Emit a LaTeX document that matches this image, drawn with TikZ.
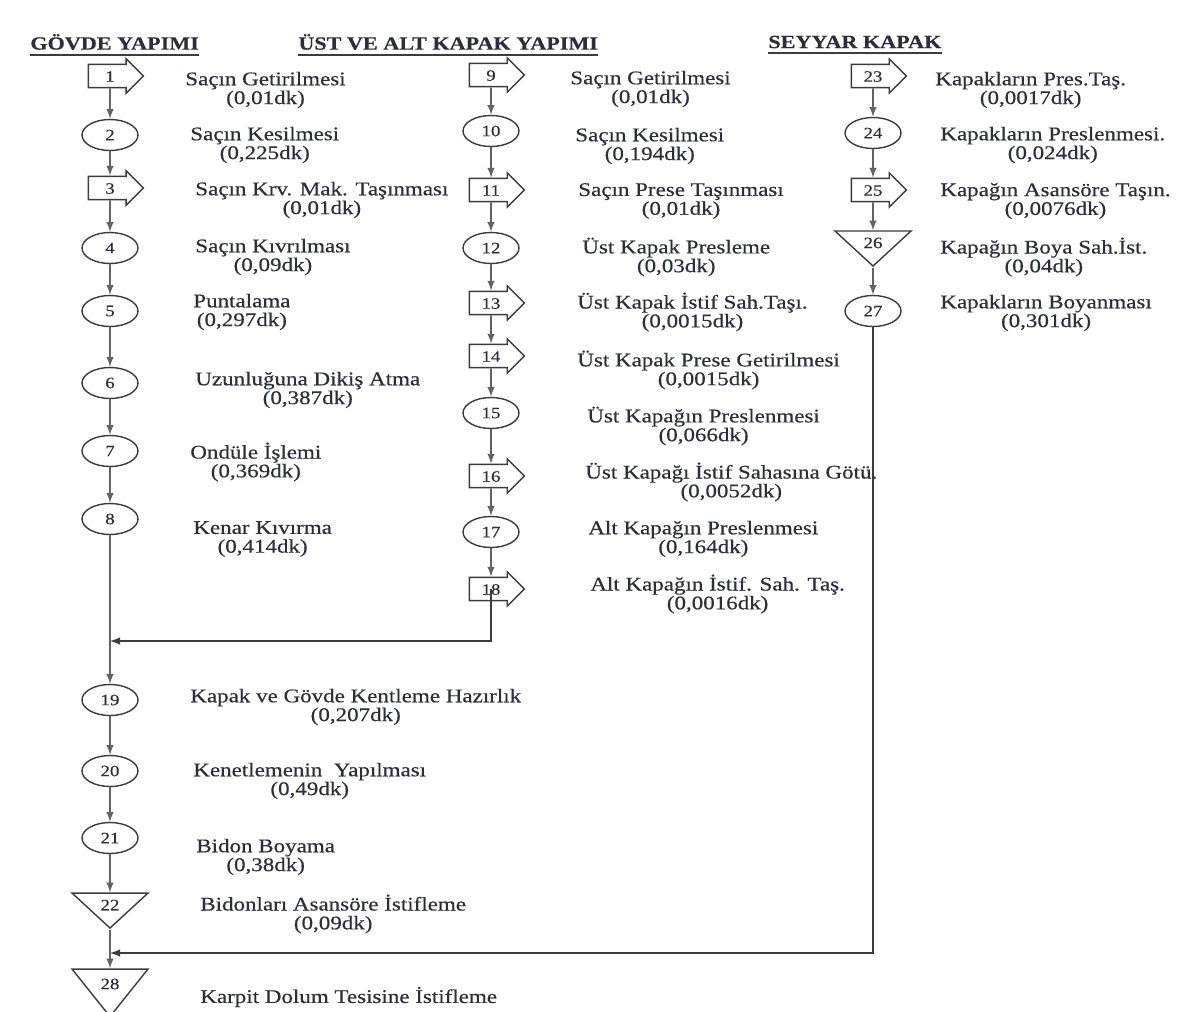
\documentclass[tikz,border=0pt]{standalone}
\usepackage{fontspec}
\setmainfont{Liberation Serif}[FakeStretch=1.19,FakeBold=0.4]
\usepackage{tikz}
\usetikzlibrary{shapes.geometric}
\usetikzlibrary{shapes.arrows}
\definecolor{yazi}{RGB}{45,45,60}
\definecolor{cizgi}{RGB}{60,60,60}

\begin{document}
\begin{tikzpicture}[>=latex,x=0.02cm,y=-0.02cm,
    islem/.style={draw=cizgi,line width=0.8pt,fill=white,ellipse,minimum width=1.12cm,minimum height=0.62cm,inner sep=0pt,text=yazi,font=\fontsize{9}{9}\selectfont},
    tasima/.style={draw=cizgi,line width=0.8pt,fill=white,single arrow,single arrow head extend=0.11cm,single arrow tip angle=90,text width=0.62cm,align=center,inner xsep=0.11cm,inner ysep=3pt,text height=6.5pt,text depth=0pt,text=yazi,font=\fontsize{9}{9}\selectfont},
    depo/.style={draw=cizgi,line width=0.8pt,fill=white,isosceles triangle,shape border rotate=270,isosceles triangle stretches,minimum width=1.52cm,minimum height=0.7cm,inner sep=0pt,text=yazi,font=\fontsize{9}{9}\selectfont},
    etiket/.style={anchor=west,align=center,inner sep=0pt,text=yazi,font=\fontsize{11}{10.7}\selectfont},
    baslik/.style={anchor=west,inner sep=0pt,text=yazi,font=\bfseries\fontsize{10.6}{12}\selectfont},
    akis/.style={->,draw=cizgi!80,line width=0.9pt},
    birlesim/.style={->,draw=cizgi,line width=1pt}]
    \path[use as bounding box,fill=white](0,0)rectangle(1179,1011);
    \node[baslik](b1)at(30,42){GÖVDE YAPIMI};
    \node[baslik](b2)at(298,42){ÜST VE ALT KAPAK YAPIMI};
    \node[baslik](b3)at(768,42){SEYYAR KAPAK};
    \draw[cizgi,line width=1pt]([yshift=-2.5pt]b1.south west)--([yshift=-2.5pt]b1.south east);
    \draw[cizgi,line width=1pt]([yshift=-2.5pt]b2.south west)--([yshift=-2.5pt]b2.south east);
    \draw[cizgi,line width=1pt]([yshift=-2.5pt]b3.south west)--([yshift=-2.5pt]b3.south east);
    \node[tasima](n1)at(110,76){1};
    \node[islem](n2)at(110,135){2};
    \node[tasima](n3)at(110,188){3};
    \node[islem](n4)at(110,248){4};
    \node[islem](n5)at(110,311){5};
    \node[islem](n6)at(110,383){6};
    \node[islem](n7)at(110,451){7};
    \node[islem](n8)at(110,519){8};
    \node[islem](n19)at(110,700){19};
    \node[islem](n20)at(110,771){20};
    \node[islem](n21)at(110,838){21};
    \node[depo](n22)at(110,905){22};
    \node[depo,minimum height=0.95cm](n28)at(110,984){28};
    \node[tasima](n9)at(491,75){9};
    \node[islem](n10)at(491,131){10};
    \node[tasima](n11)at(491,190){11};
    \node[islem](n12)at(491,248){12};
    \node[tasima](n13)at(491,303){13};
    \node[tasima](n14)at(491,356){14};
    \node[islem](n15)at(491,413){15};
    \node[tasima](n16)at(491,476){16};
    \node[islem](n17)at(491,532){17};
    \node[tasima](n18)at(491,589){18};
    \node[tasima](n23)at(873,76){23};
    \node[islem](n24)at(873,133){24};
    \node[tasima](n25)at(873,190){25};
    \node[depo](n26)at(873,243){26};
    \node[islem](n27)at(873,311){27};
    \node[etiket](l1)at(185,90){Saçın Getirilmesi\\(0,01dk)};
    \node[etiket](l2)at(190,145){Saçın Kesilmesi\\(0,225dk)};
    \node[etiket](l3)at(195,200){Saçın Krv. Mak. Taşınması\\(0,01dk)};
    \node[etiket](l4)at(195,257){Saçın Kıvrılması\\(0,09dk)};
    \node[etiket](l5)at(193,312){Puntalama\\(0,297dk)};
    \node[etiket](l6)at(195,390){Uzunluğuna Dikiş Atma\\(0,387dk)};
    \node[etiket](l7)at(190,462){Ondüle İşlemi\\(0,369dk)};
    \node[etiket](l8)at(193,539){Kenar Kıvırma\\(0,414dk)};
    \node[etiket](l19)at(190,707){Kapak ve Gövde Kentleme Hazırlık\\(0,207dk)};
    \node[etiket](l20)at(193,781){Kenetlemenin~ Yapılması\\(0,49dk)};
    \node[etiket](l21)at(196,857){Bidon Boyama\\(0,38dk)};
    \node[etiket](l22)at(200,914){Bidonları Asansöre İstifleme\\(0,09dk)};
    \node[etiket](l28)at(200,997){Karpit Dolum Tesisine İstifleme};
    \node[etiket](l9)at(570,89){Saçın Getirilmesi\\(0,01dk)};
    \node[etiket](l10)at(575,146){Saçın Kesilmesi\\(0,194dk)};
    \node[etiket](l11)at(578,201){Saçın Prese Taşınması\\(0,01dk)};
    \node[etiket](l12)at(582,257){Üst Kapak Presleme\\(0,03dk)};
    \node[etiket](l13)at(577,312){Üst Kapak İstif Sah.Taşı.\\(0,0015dk)};
    \node[etiket](l14)at(577,370){Üst Kapak Prese Getirilmesi\\(0,0015dk)};
    \node[etiket](l15)at(587,426){Üst Kapağın Preslenmesi\\(0,066dk)};
    \node[etiket](l16)at(585,482){Üst Kapağı İstif Sahasına Götü.\\(0,0052dk)};
    \node[etiket](l17)at(588,539){Alt Kapağın Preslenmesi\\(0,164dk)};
    \node[etiket](l18)at(590,594){Alt Kapağın İstif. Sah. Taş.\\(0,0016dk)};
    \node[etiket](l23)at(935,90){Kapakların Pres.Taş.\\(0,0017dk)};
    \node[etiket](l24)at(940,145){Kapakların Preslenmesi.\\(0,024dk)};
    \node[etiket](l25)at(940,201){Kapağın Asansöre Taşın.\\(0,0076dk)};
    \node[etiket](l26)at(940,257){Kapağın Boya Sah.İst.\\(0,04dk)};
    \node[etiket](l27)at(940,313){Kapakların Boyanması\\(0,301dk)};
    \coordinate(m1)at(110,641);
    \coordinate(m2)at(110,953);
    \draw[akis](n1)--(n2);\draw[akis](n2)--(n3);\draw[akis](n3)--(n4);\draw[akis](n4)--(n5);
    \draw[akis](n5)--(n6);\draw[akis](n6)--(n7);\draw[akis](n7)--(n8);\draw[akis](n8)--(n19);
    \draw[akis](n19)--(n20);\draw[akis](n20)--(n21);\draw[akis](n21)--(n22);\draw[akis](n22)--(n28);
    \draw[akis](n9)--(n10);\draw[akis](n10)--(n11);\draw[akis](n11)--(n12);\draw[akis](n12)--(n13);
    \draw[akis](n13)--(n14);\draw[akis](n14)--(n15);\draw[akis](n15)--(n16);\draw[akis](n16)--(n17);
    \draw[akis](n17)--(n18);
    \draw[akis](n23)--(n24);\draw[akis](n24)--(n25);\draw[akis](n25)--(n26);\draw[akis](n26)--(n27);
    \draw[birlesim](n18.center)|-(m1);
    \draw[birlesim](n27)|-(m2);
\end{tikzpicture}
\end{document}
